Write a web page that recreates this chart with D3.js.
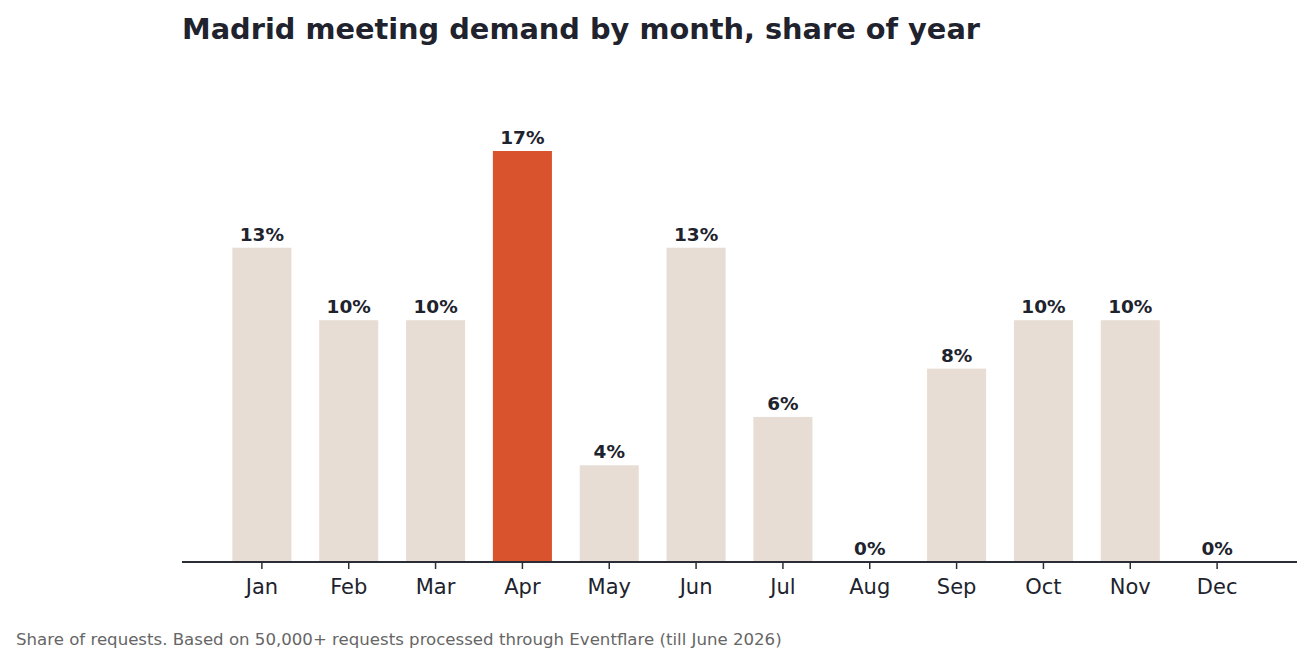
<!DOCTYPE html>
<html>
<head>
<meta charset="utf-8">
<script src="https://cdn.jsdelivr.net/npm/d3@7"></script>
<style>
  body { margin: 0; background: #fff; }
  svg { display: block; }
</style>
</head>
<body>
<svg id="chart"></svg>
<script>
const months = ['Jan', 'Feb', 'Mar', 'Apr', 'May', 'Jun', 'Jul', 'Aug', 'Sep', 'Oct', 'Nov', 'Dec'];
const shares = [13, 10, 10, 17, 4, 13, 6, 0, 8, 10, 10, 0];
const highlightMonth = 'Apr';

const width = 1313, height = 665;
const margin = { top: 60, right: 16, bottom: 103, left: 182 };
const ink = '#20232d';

const svg = d3.select('#chart')
    .attr('width', width)
    .attr('height', height);

const xScale = d3.scaleBand()
    .domain(months)
    .range([margin.left, width - margin.right])
    .paddingInner(0.32)
    .paddingOuter(0.58);

// 0 at baseline, 17% sits at y=151
const yScale = d3.scaleLinear()
    .domain([0, 17])
    .range([height - margin.bottom, 151]);

svg.append('text')
    .attr('x', margin.left)
    .attr('y', 39)
    .attr('font-family', 'DejaVu Sans')
    .attr('font-weight', 'bold')
    .attr('font-size', 28.8)
    .attr('fill', ink)
    .text('Madrid meeting demand by month, share of year');

svg.selectAll('rect.bar')
    .data(months)
    .join('rect')
    .attr('class', 'bar')
    .attr('x', d => xScale(d))
    .attr('width', xScale.bandwidth())
    .attr('y', (d, i) => yScale(shares[i]))
    .attr('height', (d, i) => yScale(0) - yScale(shares[i]))
    .attr('fill', d => d === highlightMonth ? '#d9532d' : '#e7ddd4');

svg.selectAll('text.val')
    .data(months)
    .join('text')
    .attr('class', 'val')
    .attr('x', d => xScale(d) + xScale.bandwidth() / 2)
    .attr('y', (d, i) => yScale(shares[i]) - 7)
    .attr('text-anchor', 'middle')
    .attr('font-family', 'DejaVu Sans')
    .attr('font-weight', 'bold')
    .attr('font-size', 18.5)
    .attr('fill', ink)
    .text((d, i) => shares[i] + '%');

const xAxis = d3.axisBottom(xScale).tickSize(7).tickPadding(10);

const xAxisG = svg.append('g')
    .attr('transform', `translate(0,${yScale(0)})`)
    .call(xAxis);

xAxisG.select('.domain')
    .attr('d', `M${margin.left},0H${width - margin.right}`)
    .attr('stroke', '#2a2d36')
    .attr('stroke-width', 1.8);

xAxisG.selectAll('.tick line')
    .attr('stroke', '#2a2d36')
    .attr('stroke-width', 1.5);

xAxisG.selectAll('.tick text')
    .attr('font-family', 'DejaVu Sans')
    .attr('font-size', 21)
    .attr('fill', ink);

svg.append('text')
    .attr('x', 16)
    .attr('y', 645)
    .attr('font-family', 'DejaVu Sans')
    .attr('font-size', 16.6)
    .attr('fill', '#666666')
    .text('Share of requests. Based on 50,000+ requests processed through Eventflare (till June 2026)');
</script>
</body>
</html>
